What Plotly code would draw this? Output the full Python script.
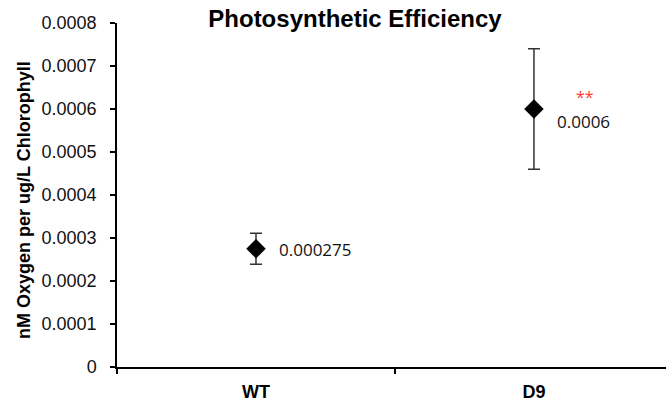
import plotly.graph_objects as go

categories = ["WT", "D9"]
values = [0.000275, 0.0006]
errors = [0.000036, 0.00014]
value_labels = ["0.000275", "0.0006"]
y_tickvals = [0, 0.0001, 0.0002, 0.0003, 0.0004, 0.0005, 0.0006, 0.0007, 0.0008]
y_ticktext = ["0", "0.0001", "0.0002", "0.0003", "0.0004", "0.0005", "0.0006", "0.0007", "0.0008"]

fig = go.Figure()

fig.add_trace(go.Scatter(
    x=categories, y=values, mode="markers",
    marker=dict(symbol="diamond", size=15, color="black"),
    error_y=dict(type="data", array=errors, visible=True,
                 color="#333333", thickness=1.5, width=6),
    showlegend=False))

font_main = "Liberation Sans, Arial, sans-serif"

fig.update_layout(
    width=666, height=406,
    margin=dict(l=117, r=0, t=23, b=39),
    paper_bgcolor="white", plot_bgcolor="white",
    title=dict(text="<b>Photosynthetic Efficiency</b>", x=355/666, xanchor="center",
               xref="container", yref="container", y=1 - 19/406, yanchor="middle",
               font=dict(family=font_main, size=24, color="black")),
    xaxis=dict(type="category", categoryorder="array", categoryarray=categories,
               range=[-0.5, 1.475], showline=True, linecolor="black", linewidth=2,
               ticks="outside", ticklen=5, tickwidth=1.5, tickcolor="black",
               tickson="boundaries", showgrid=False, zeroline=False,
               tickfont=dict(family=font_main, size=18, color="black"),
               tickprefix="<b>", ticksuffix="</b>",
               ticklabelstandoff=7, fixedrange=True),
    yaxis=dict(range=[0, 0.0008], tickvals=y_tickvals, ticktext=y_ticktext,
               showline=True, linecolor="black", linewidth=1.5,
               ticks="outside", ticklen=5, tickwidth=1.5, tickcolor="black",
               showgrid=False, zeroline=False, ticklabelstandoff=10,
               tickfont=dict(family=font_main, size=18, color="#111111")),
)

fig.add_annotation(text="<b>nM Oxygen per ug/L Chlorophyll</b>", textangle=-90,
                   xref="paper", yref="paper", x=0, y=(367-200)/344,
                   xanchor="center", yanchor="middle", xshift=-93, showarrow=False,
                   font=dict(family=font_main, size=18, color="black"))

label_shifts = [(21, -1), (21, -12)]
for cat, val, lab, (dx, dy) in zip(categories, values, value_labels, label_shifts):
    fig.add_annotation(text=lab, xref="x", yref="y", x=cat, y=val,
                       xanchor="left", yanchor="middle", xshift=dx, yshift=dy,
                       showarrow=False,
                       font=dict(family="Open Sans, sans-serif", size=17, color="#111111"))

fig.add_annotation(text="**", xref="x", yref="y", x=categories[1], y=values[1],
                   xanchor="left", yanchor="middle", xshift=40, yshift=12,
                   showarrow=False,
                   font=dict(family="Open Sans, sans-serif", size=16, color="#ff3b2f"))

fig.write_html("out.html")
